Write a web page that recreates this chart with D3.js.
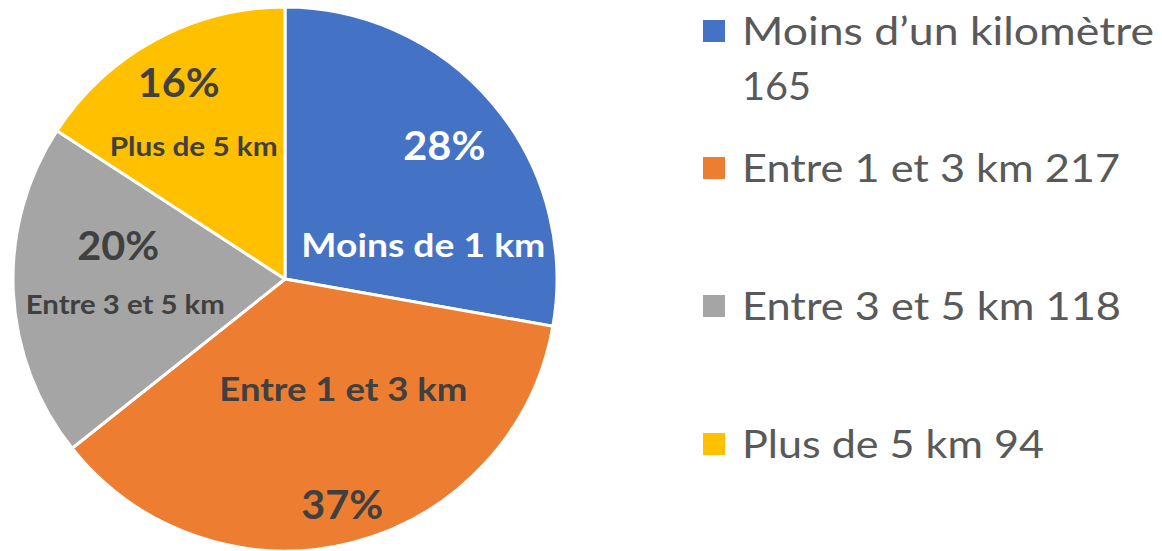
<!DOCTYPE html>
<html>
  <head>
    <meta charset="utf-8">
    <title>Pie</title>
    <script src="https://cdn.jsdelivr.net/npm/d3@7"></script>
    <style>
      body { margin: 0; background: #fff; }
      text { font-family: Lato, "Noto Sans", sans-serif; }
    </style>
  </head>
  <body>
    <svg width="1162" height="551" id="mainsvg"></svg>
    <script>
      // data
      const categories = ['Moins de 1 km', 'Entre 1 et 3 km', 'Entre 3 et 5 km', 'Plus de 5 km'];
      const legendNames = ['Moins d\u2019un kilomètre', 'Entre 1 et 3 km', 'Entre 3 et 5 km', 'Plus de 5 km'];
      const values = [165, 217, 118, 94];
      const colors = ['#4472c4', '#ed7d31', '#a5a5a5', '#ffc000'];

      // label placement (Excel had them dragged around a bit)
      const pctRadius = [208, 233, 170, 223];
      const pctAngleShift = [0, 0, 14, 0];       // degrees
      const nameOffset = [[-21, 100], [1, -115], [7, 59], [15, 64]];
      const pctWidth = [82, 82, 82, 82];
      const nameWidth = [244, 248, 199, 168];

      const svg = d3.select('#mainsvg');
      const cx = 285, cy = 279, radius = 272;
      const total = d3.sum(values);

      const g = svg.append('g').attr('transform', `translate(${cx}, ${cy})`);

      const pie = d3.pie().sort(null).value(d => d);
      const arcs = pie(values);
      const arc = d3.arc().innerRadius(0).outerRadius(radius);

      g.selectAll('path.slice').data(arcs).enter().append('path')
        .attr('class', 'slice')
        .attr('d', arc)
        .attr('fill', (d, i) => colors[i])
        .attr('stroke', '#fff')
        .attr('stroke-width', 3)
        .attr('stroke-linejoin', 'round');

      const labels = g.selectAll('g.lab').data(arcs).enter().append('g')
        .attr('class', 'lab')
        .attr('transform', (d, i) => {
          const a = (d.startAngle + d.endAngle) / 2 + pctAngleShift[i] * Math.PI / 180;
          return `translate(${pctRadius[i] * Math.sin(a)}, ${-pctRadius[i] * Math.cos(a)})`;
        });

      labels.append('text')
        .attr('text-anchor', 'middle')
        .attr('dy', '0.36em')
        .attr('font-size', 40)
        .attr('font-weight', 'bold')
        .attr('fill', (d, i) => i === 0 ? '#fff' : '#404040')
        .attr('textLength', (d, i) => pctWidth[i])
        .attr('lengthAdjust', 'spacingAndGlyphs')
        .text(d => Math.round(d.data / total * 100) + '%');

      labels.append('text')
        .attr('text-anchor', 'middle')
        .attr('x', (d, i) => nameOffset[i][0])
        .attr('y', (d, i) => nameOffset[i][1])
        .attr('dy', '0.36em')
        .attr('font-size', (d, i) => i < 2 ? 32 : 26)
        .attr('font-weight', 'bold')
        .attr('fill', (d, i) => i === 0 ? '#fff' : '#404040')
        .attr('textLength', (d, i) => nameWidth[i])
        .attr('lengthAdjust', 'spacingAndGlyphs')
        .text((d, i) => categories[i]);

      // legend
      const legendY = [31, 168, 306, 444];
      const legend = svg.append('g').attr('transform', 'translate(703, 0)');
      const items = legend.selectAll('g').data(values).enter().append('g')
        .attr('transform', (d, i) => `translate(0, ${legendY[i]})`);

      items.append('rect')
        .attr('x', 0).attr('y', -11)
        .attr('width', 22).attr('height', 22)
        .attr('fill', (d, i) => colors[i]);

      const lineWidths = [[412, 69], [378], [379], [302]];
      items.each(function(d, i) {
        const lines = i === 0 ? [legendNames[i], String(d)] : [legendNames[i] + ' ' + d];
        d3.select(this).selectAll('text').data(lines).enter().append('text')
          .attr('x', 39)
          .attr('y', (t, j) => 14 + j * 55)
          .attr('font-size', 39)
          .attr('fill', '#595959')
          .attr('textLength', (t, j) => lineWidths[i][j])
          .attr('lengthAdjust', 'spacingAndGlyphs')
          .text(t => t);
      });
    </script>
  </body>
</html>
